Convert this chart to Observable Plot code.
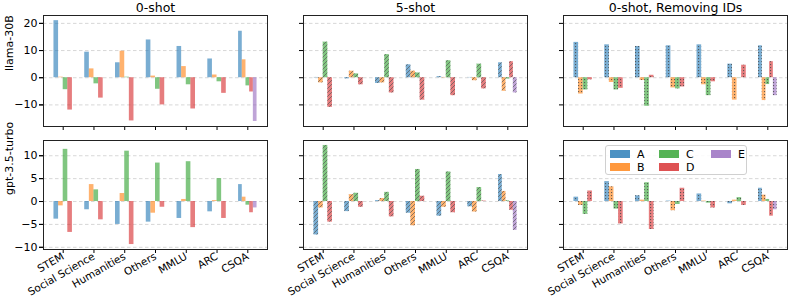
<!DOCTYPE html>
<html><head><meta charset="utf-8">
<script src="https://cdn.jsdelivr.net/npm/d3@7"></script>
<script src="https://cdn.jsdelivr.net/npm/@observablehq/plot@0.6"></script>
<style>
body{margin:0;background:#fff;font-family:"DejaVu Sans",sans-serif;}
#wrap{position:relative;width:789px;height:300px;overflow:hidden;}
#wrap svg{display:block;}
.legend{position:absolute;left:605px;top:145px;width:140px;height:28px;border:1px solid #d0d0d0;border-radius:3px;background:rgba(255,255,255,0.85);font-size:11px;color:#000;}
.legend .it{position:absolute;height:13px;line-height:13px;}
.legend .sw{position:absolute;left:0;top:2px;width:20px;height:8px;}
.legend .lb{position:absolute;left:27px;top:0;}
</style></head><body>
<svg width="0" height="0" style="position:absolute">
  <defs>
    <pattern id="hatch" patternUnits="userSpaceOnUse" width="4" height="4">
      <path d="M-1,1 l2,-2 M0,4 l4,-4 M3,5 l2,-2" stroke="#555" stroke-opacity="0.75" stroke-width="0.9"/>
    </pattern>
    <pattern id="dots" patternUnits="userSpaceOnUse" width="3" height="3">
      <rect x="1" y="1" width="1.1" height="1.1" fill="#4a4a4a" fill-opacity="0.85"/>
    </pattern>
  </defs>
</svg>
<div id="wrap"></div>
<script>
const categories = ["STEM","Social Science","Humanities","Others","MMLU","ARC","CSQA"];
const options = ["A","B","C","D","E"];
const colors = ["#1f77b4","#ff7f0e","#2ca02c","#d62728","#9467bd"];
const settings = ["0-shot","5-shot","0-shot, Removing IDs"];
const models = ["llama-30B","gpt-3.5-turbo"];

// each row: one category, values for A, B, C, D (and E for CSQA)
const llama0shot = [[21.0,0.2,-4.4,-11.9],[9.4,3.25,-2.25,-7.5],[5.5,9.75,0.2,-15.9],[13.9,0.6,-4.25,-10.0],[11.5,4.1,-2.6,-11.5],[6.9,1.0,-1.5,-5.75],[17.1,6.6,-3.0,-5.25,-16.1]];
const llama5shot = [[0.1,-1.9,13.1,-10.9],[-0.4,2.4,1.4,-2.6],[-2.1,-1.9,8.5,-5.6],[4.75,2.4,1.75,-8.25],[0.4,0.1,6.25,-6.6],[0.1,-1.1,5.0,-4.1],[5.5,-5.0,-0.5,5.9,-5.6]];
const llamaNoIds = [[13.0,-6.0,-4.5,-0.75],[12.1,-1.75,-4.5,-3.9],[11.5,-1.0,-10.5,0.9],[11.75,-3.75,-4.1,-3.4],[12.1,-2.6,-6.6,-1.5],[5.0,-8.25,0.05,4.6],[11.75,-8.4,-2.5,5.9,-6.6]];
const gpt0shot = [[-3.85,-0.95,11.4,-6.75],[-1.8,3.7,2.55,-4.0],[-5.0,1.75,11.0,-9.4],[-4.5,-2.55,8.4,-1.25],[-3.7,0.45,8.7,-5.7],[-2.25,0.2,5.0,-3.7],[3.7,0.95,-0.8,-2.45,-1.4]];
const gpt5shot = [[-7.3,-1.4,12.25,-4.5],[-2.2,1.5,1.8,-1.25],[0.2,0.65,2.0,-3.35],[-2.55,-5.3,7.0,1.15],[-3.2,-1.25,6.45,-2.45],[-1.15,-2.3,3.05,0.1],[5.9,2.2,0.15,-1.9,-6.3]];
const gptNoIds = [[0.95,-0.85,-2.8,2.3],[4.35,3.2,-1.65,-4.9],[1.25,0.3,4.1,-6.1],[0.1,-2.0,-0.65,2.9],[1.65,0.1,-0.35,-1.4],[-0.5,0.3,0.85,-0.85],[2.9,1.4,0.45,-3.2,-1.8]];

const yTicksTop = [-10,0,10,20];
const yTicksBottom = [-10,-5,0,5,10];

const table = {
  "llama-30B": {"0-shot": llama0shot, "5-shot": llama5shot, "0-shot, Removing IDs": llamaNoIds},
  "gpt-3.5-turbo": {"0-shot": gpt0shot, "5-shot": gpt5shot, "0-shot, Removing IDs": gptNoIds}
};

function buildRows(model) {
  const rows = [];
  for (const s of settings) {
    table[model][s].forEach((vals, i) => {
      const n = vals.length, w = 0.6 / n;
      vals.forEach((v, j) => {
        const x1 = i - 0.3 + j * w;
        rows.push({setting: s, category: categories[i], option: options[j], value: v, x1, x2: x1 + w});
      });
    });
  }
  return rows;
}

function rowPlot(model, cfg) {
  const rows = buildRows(model);
  const fmt = d3.format("d");
  return Plot.plot({
    width: 789, height: cfg.height,
    marginLeft: 43, marginRight: 2, marginTop: cfg.marginTop, marginBottom: cfg.marginBottom,
    fx: {domain: settings, paddingInner: 36/260, paddingOuter: 0, round: false, label: null, axis: null},
    x: {domain: [-0.64, 6.64], axis: null},
    y: {domain: cfg.ydomain, axis: null},
    color: {domain: options, range: colors},
    style: {fontFamily: "DejaVu Sans, sans-serif", fontSize: "11px", color: "#000", background: "white", overflow: "visible"},
    marks: [
      Plot.gridY(cfg.yticks, {stroke: "#b8b8b8", strokeOpacity: 0.7, strokeDasharray: "3.5,2.5", strokeWidth: 0.8}),
      Plot.rectY(rows, {fx: "setting", x1: "x1", x2: "x2", y1: 0, y2: "value", fill: "option", fillOpacity: 0.6}),
      Plot.rectY(rows.filter(d => d.setting === "5-shot"), {fx: "setting", x1: "x1", x2: "x2", y1: 0, y2: "value", fill: "url(#hatch)"}),
      Plot.rectY(rows.filter(d => d.setting === "0-shot, Removing IDs"), {fx: "setting", x1: "x1", x2: "x2", y1: 0, y2: "value", fill: "url(#dots)"}),
      Plot.axisY(cfg.yticks, {tickFormat: fmt, tickSize: 4, tickPadding: 2, label: null, fontSize: 11, stroke: "#000"}),
      Plot.axisY(cfg.yticks, {tickFormat: () => "", tickSize: 4, label: null, facetAnchor: null, stroke: "#000"}),
      cfg.xlabels
        ? Plot.axisX(d3.range(categories.length), {tickFormat: i => categories[i], tickSize: 4, tickPadding: 2, tickRotate: -30, textAnchor: "end", label: null, fontSize: 10.5, stroke: "#000"})
        : Plot.axisX(d3.range(categories.length), {tickFormat: () => "", tickSize: 4, label: null, stroke: "#000"}),
      cfg.titles ? Plot.axisFx({anchor: "top", label: null, tickSize: 0, tickPadding: 4, fontSize: 12.5}) : null,
      Plot.text([model], {frameAnchor: "left", facetAnchor: "left", rotate: -90, dx: -34, fontSize: 11, fill: "#000"}),
      Plot.frame({stroke: "#222", strokeWidth: 1})
    ]
  });
}

const wrap = document.getElementById("wrap");
wrap.appendChild(rowPlot("llama-30B", {height: 131, marginTop: 15, marginBottom: 5, ydomain: [-17.95, 22.9], yticks: yTicksTop, titles: true, xlabels: false}));
wrap.appendChild(rowPlot("gpt-3.5-turbo", {height: 169, marginTop: 9, marginBottom: 51, ydomain: [-10.48, 13.33], yticks: yTicksBottom, titles: false, xlabels: true}));

// legend inside the bottom-right panel
const lg = document.createElement("div");
lg.className = "legend";
const pos = [[4,2],[4,15],[53,2],[53,15],[105,2]];
options.forEach((o, k) => {
  const it = document.createElement("div");
  it.className = "it";
  it.style.left = pos[k][0] + "px";
  it.style.top = pos[k][1] + "px";
  const sw = document.createElement("div");
  sw.className = "sw";
  sw.style.background = colors[k];
  sw.style.opacity = 0.8;
  const lb = document.createElement("div");
  lb.className = "lb";
  lb.textContent = o;
  it.appendChild(sw); it.appendChild(lb);
  lg.appendChild(it);
});
wrap.appendChild(lg);
</script>
</body></html>
